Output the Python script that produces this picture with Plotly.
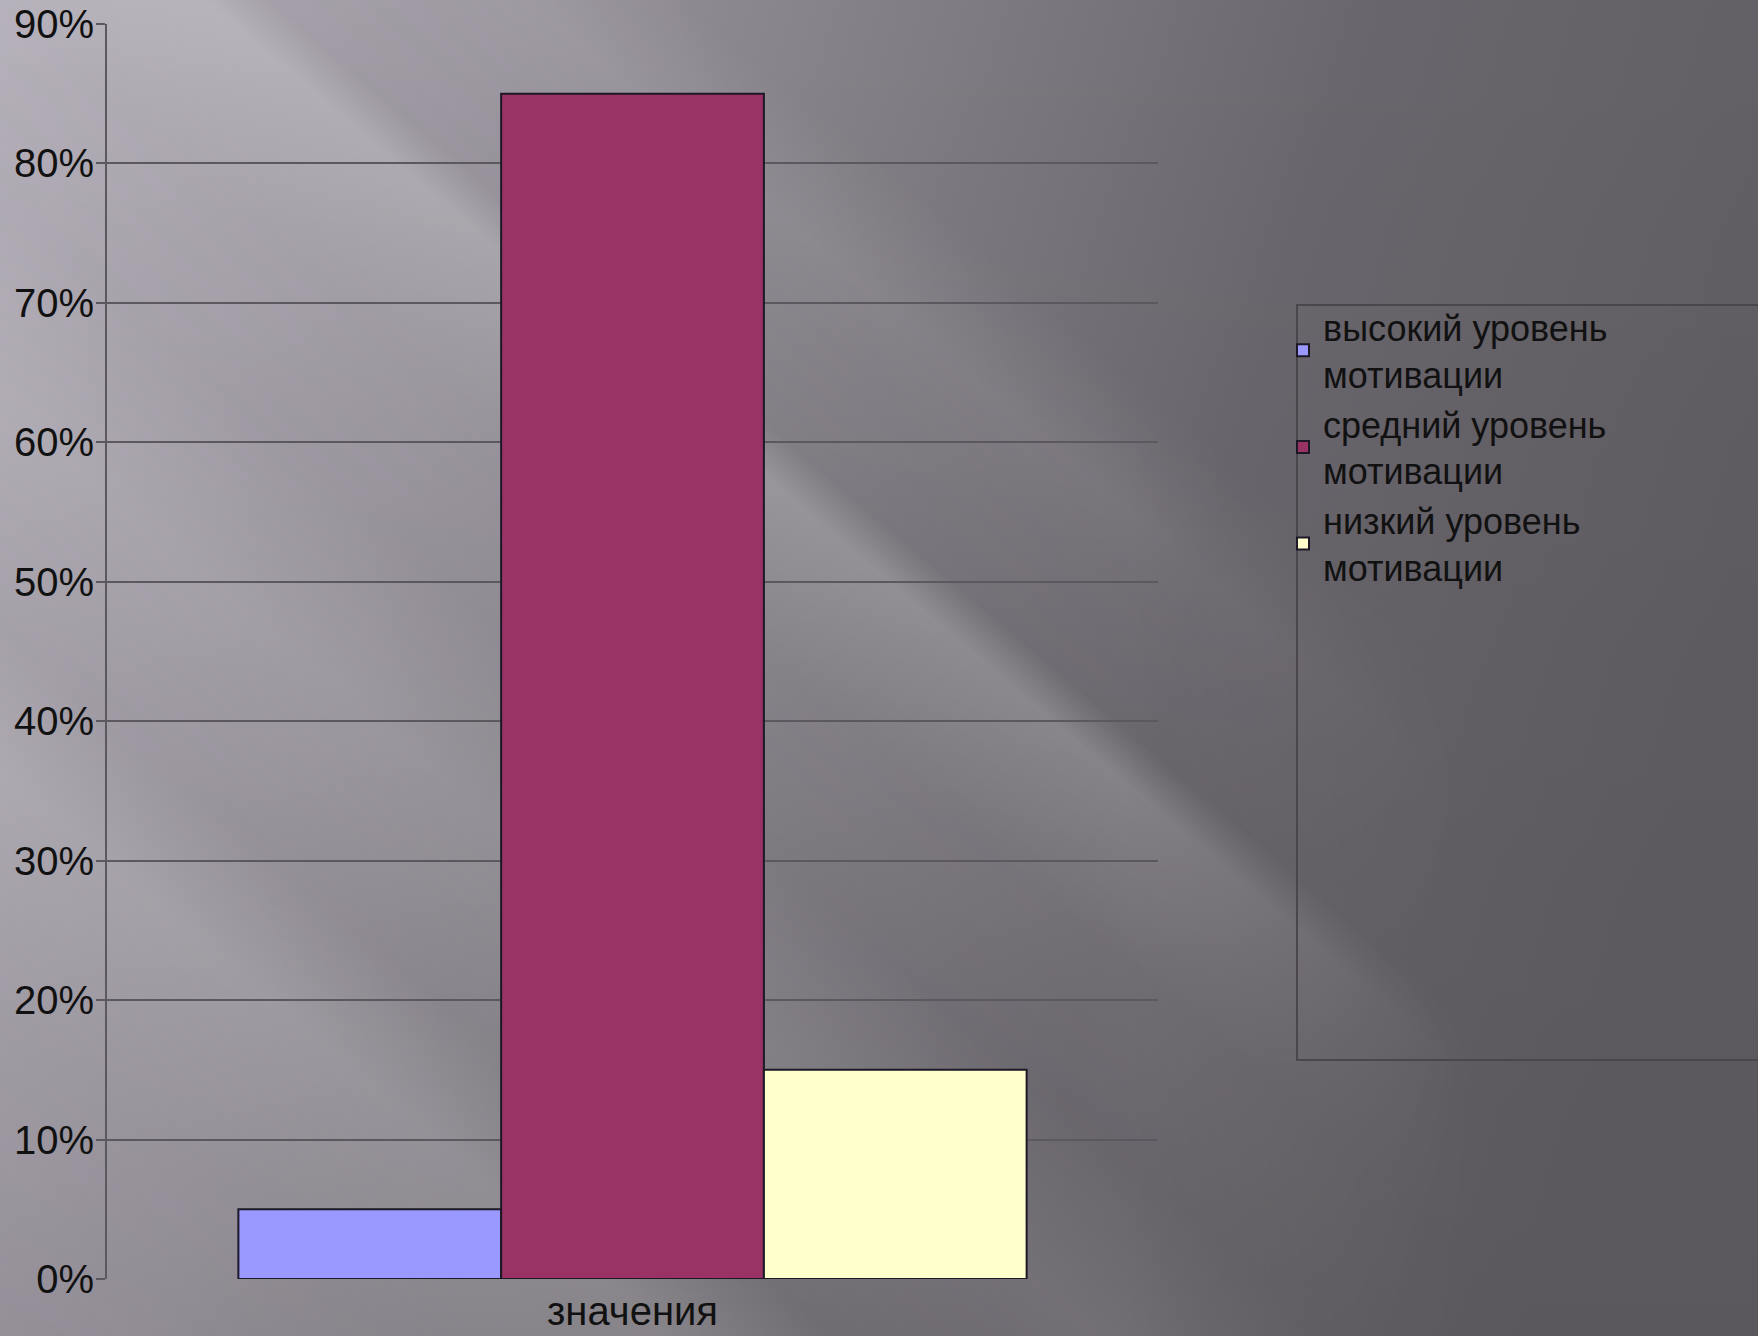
import base64
import plotly.graph_objects as go

# ---- data ----
categories = ["значения"]
series_names = ["высокий уровень<br>мотивации", "средний уровень<br>мотивации", "низкий уровень<br>мотивации"]
series_values = [[0.05], [0.85], [0.15]]
series_colors = ["#9999ff", "#993366", "#ffffcc"]
y_ticks = [0, 0.1, 0.2, 0.3, 0.4, 0.5, 0.6, 0.7, 0.8, 0.9]

W, H = 1758, 1336
L, R, T, B = 107, 600, 24, 57
PW, PH = W - L - R, H - T - B

# diagonal light-streak background (decorative): (offset, colour, opacity)
band_stops = [
    (0.00, "#ffffff", 0.00), (0.12, "#ffffff", 0.06), (0.20, "#ffffff", 0.14),
    (0.25, "#ffffff", 0.03), (0.33, "#ffffff", 0.11), (0.40, "#ffffff", 0.04),
    (0.47, "#ffffff", 0.08), (0.533, "#ffffff", 0.20), (0.552, "#ffffff", 0.02),
    (0.60, "#ffffff", 0.05), (0.63, "#ffffff", 0.08), (0.68, "#ffffff", 0.0),
    (1.0, "#ffffff", 0.0),
]
stops_svg = "".join(
    f'<stop offset="{o}" stop-color="{c}" stop-opacity="{a}"/>' for o, c, a in band_stops
)
svg = f'''<svg xmlns="http://www.w3.org/2000/svg" width="{W}" height="{H}" viewBox="0 0 {W} {H}">
<defs>
<linearGradient id="base" x1="0" y1="0" x2="{W}" y2="500" gradientUnits="userSpaceOnUse">
<stop offset="0" stop-color="#b0abb5"/>
<stop offset="0.28" stop-color="#97929b"/>
<stop offset="0.52" stop-color="#7e7a81"/>
<stop offset="0.72" stop-color="#6a666d"/>
<stop offset="1" stop-color="#605d63"/>
</linearGradient>
<linearGradient id="shade" x1="0" y1="0" x2="0" y2="{H}" gradientUnits="userSpaceOnUse">
<stop offset="0" stop-color="#000" stop-opacity="0"/>
<stop offset="1" stop-color="#000" stop-opacity="0.06"/>
</linearGradient>
<linearGradient id="band" x1="0" y1="{H}" x2="1398" y2="-308" gradientUnits="userSpaceOnUse">
{stops_svg}
</linearGradient>
<linearGradient id="fade" x1="0" y1="0" x2="{W}" y2="0" gradientUnits="userSpaceOnUse">
<stop offset="0" stop-color="#fff"/>
<stop offset="0.64" stop-color="#fff"/>
<stop offset="0.84" stop-color="#000"/>
<stop offset="1" stop-color="#000"/>
</linearGradient>
<mask id="m"><rect width="{W}" height="{H}" fill="url(#fade)"/></mask>
</defs>
<rect width="{W}" height="{H}" fill="url(#base)"/>
<rect width="{W}" height="{H}" fill="url(#shade)"/>
<rect width="{W}" height="{H}" fill="url(#band)" mask="url(#m)"/>
</svg>'''
bg_uri = "data:image/svg+xml;base64," + base64.b64encode(svg.encode("utf-8")).decode("ascii")

fig = go.Figure()
for name, vals, col in zip(series_names, series_values, series_colors):
    fig.add_trace(go.Bar(
        x=categories, y=vals, name=name,
        marker=dict(color=col, line=dict(color="#1c1826", width=2)),
    ))

fig.update_layout(
    width=W, height=H,
    margin=dict(l=L, r=R, t=T, b=B, pad=0, autoexpand=False),
    paper_bgcolor="#6e6a70",
    plot_bgcolor="rgba(0,0,0,0)",
    barmode="group", bargap=0.25, bargroupgap=0,
    font=dict(family="Liberation Sans, Arial, sans-serif", color="#111111"),
    showlegend=True,
    legend=dict(
        x=(1283 - L) / PW, xanchor="left",
        y=(H - B - 297) / PH, yanchor="top",
        bgcolor="rgba(0,0,0,0)", borderwidth=0,
        font=dict(size=36, color="#111111", family="Liberation Sans, Arial, sans-serif"),
        tracegroupgap=0, itemwidth=30,
    ),
    images=[dict(
        source=bg_uri, xref="paper", yref="paper",
        x=-L / PW, y=(H - B) / PH, sizex=W / PW, sizey=H / PH,
        xanchor="left", yanchor="top", sizing="stretch", layer="below",
    )],
    shapes=[dict(
        type="rect", xref="paper", yref="paper",
        x0=(1297 - L) / PW, x1=(1780 - L) / PW,
        y0=(H - B - 1060) / PH, y1=(H - B - 305) / PH,
        line=dict(color="#4a464c", width=2), fillcolor="rgba(0,0,0,0)", layer="below",
    )],
)

fig.update_yaxes(
    range=[0, 0.9], tickvals=y_ticks, tickformat=".0%",
    showgrid=True, gridcolor="#5c585f", gridwidth=2,
    zeroline=False, automargin=False,
    showline=True, linecolor="#5c585f", linewidth=2,
    ticks="outside", ticklen=9, tickcolor="#5c585f", tickwidth=2,
    tickfont=dict(size=40, color="#111111"),
    ticklabelstandoff=-6,
)
fig.update_xaxes(
    showgrid=False, showline=False, zeroline=False, ticks="", automargin=False,
    tickfont=dict(size=40, color="#111111"),
    ticklabelstandoff=5,
)

fig.write_html(
    "out.html",
    config={"displayModeBar": False},
    post_script="document.body.style.margin='0';document.body.style.overflow='hidden';",
)
